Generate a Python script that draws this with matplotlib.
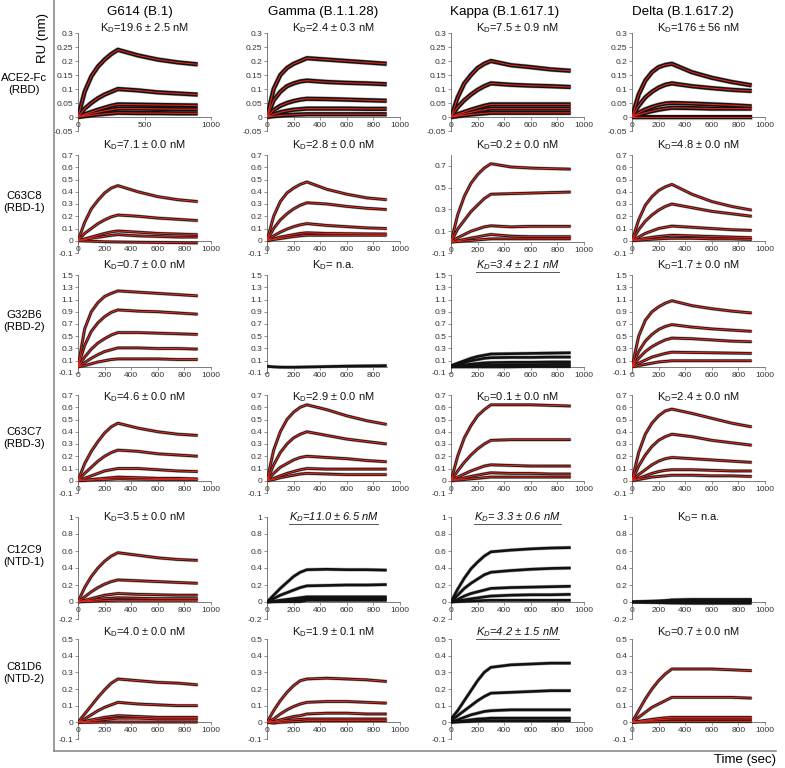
import matplotlib
matplotlib.use("Agg")
import matplotlib.pyplot as plt
from matplotlib.lines import Line2D
from matplotlib.ticker import FuncFormatter

plt.rcParams['font.family'] = ['Liberation Sans', 'DejaVu Sans']
plt.rcParams['axes.unicode_minus'] = False
plt.rcParams['mathtext.fontset'] = 'custom'
plt.rcParams['mathtext.rm'] = 'Liberation Sans'
plt.rcParams['mathtext.it'] = 'Liberation Sans:italic'

# ---------------- data ----------------
variants = ["G614 (B.1)", "Gamma (B.1.1.28)", "Kappa (B.1.617.1)", "Delta (B.1.617.2)"]
antibodies = ["ACE2-Fc\n(RBD)", "C63C8\n(RBD-1)", "G32B6\n(RBD-2)", "C63C7\n(RBD-3)", "C12C9\n(NTD-1)", "C81D6\n(NTD-2)"]
time_s = [0, 50, 100, 150, 200, 250, 300, 450, 600, 750, 900]

kd_labels = [
    ["19.6 ± 2.5 nM", "2.4 ± 0.3 nM", "7.5 ± 0.9 nM", "176 ± 56 nM"],
    ["7.1 ± 0.0 nM", "2.8 ± 0.0 nM", "0.2 ± 0.0 nM", "4.8 ± 0.0 nM"],
    ["0.7 ± 0.0 nM", " n.a.", "3.4 ± 2.1 nM", "1.7 ± 0.0 nM"],
    ["4.6 ± 0.0 nM", "2.9 ± 0.0 nM", "0.1 ± 0.0 nM", "2.4 ± 0.0 nM"],
    ["3.5 ± 0.0 nM", "11.0 ± 6.5 nM", " 3.3 ± 0.6 nM", " n.a."],
    ["4.0 ± 0.0 nM", "1.9 ± 0.1 nM", "4.2 ± 1.5 nM", "0.7 ± 0.0 nM"],
]
kd_italic = [
    [False, False, False, False],
    [False, False, False, False],
    [False, False, True, False],
    [False, False, False, False],
    [False, True, True, False],
    [False, False, True, False],
]
has_fit = [
    [True, True, True, True],
    [True, True, True, True],
    [True, False, False, True],
    [True, True, True, True],
    [True, False, False, False],
    [True, True, False, True],
]

# Row 1: ACE2-Fc
ace2_g614 = [
    [0, 0.09, 0.145, 0.18, 0.205, 0.225, 0.24, 0.22, 0.205, 0.195, 0.188],
    [0, 0.03, 0.05, 0.067, 0.08, 0.09, 0.10, 0.095, 0.088, 0.084, 0.08],
    [0, 0.01, 0.018, 0.026, 0.033, 0.04, 0.045, 0.044, 0.043, 0.042, 0.041],
    [0, 0.006, 0.012, 0.017, 0.022, 0.026, 0.03, 0.03, 0.029, 0.028, 0.028],
    [0, 0.003, 0.006, 0.009, 0.011, 0.013, 0.015, 0.014, 0.014, 0.013, 0.013],
]
ace2_gamma = [
    [0, 0.10, 0.15, 0.175, 0.19, 0.20, 0.21, 0.205, 0.20, 0.195, 0.19],
    [0, 0.06, 0.09, 0.11, 0.12, 0.127, 0.13, 0.125, 0.122, 0.12, 0.117],
    [0, 0.025, 0.04, 0.05, 0.057, 0.062, 0.065, 0.064, 0.062, 0.06, 0.058],
    [0, 0.01, 0.017, 0.022, 0.026, 0.028, 0.03, 0.03, 0.03, 0.029, 0.029],
    [0, 0.003, 0.005, 0.007, 0.008, 0.009, 0.01, 0.01, 0.01, 0.01, 0.01],
]
ace2_kappa = [
    [0, 0.07, 0.12, 0.15, 0.175, 0.19, 0.20, 0.185, 0.178, 0.17, 0.165],
    [0, 0.035, 0.06, 0.08, 0.097, 0.11, 0.12, 0.115, 0.112, 0.11, 0.107],
    [0, 0.01, 0.018, 0.026, 0.033, 0.04, 0.045, 0.045, 0.045, 0.045, 0.045],
    [0, 0.006, 0.012, 0.017, 0.022, 0.026, 0.03, 0.03, 0.03, 0.03, 0.03],
    [0, 0.003, 0.006, 0.009, 0.011, 0.013, 0.015, 0.015, 0.015, 0.015, 0.015],
]
ace2_delta = [
    [0, 0.08, 0.13, 0.16, 0.178, 0.186, 0.19, 0.16, 0.14, 0.125, 0.113],
    [0, 0.04, 0.07, 0.09, 0.105, 0.115, 0.12, 0.11, 0.103, 0.097, 0.093],
    [0, 0.015, 0.027, 0.036, 0.043, 0.048, 0.05, 0.048, 0.045, 0.042, 0.038],
    [0, 0.008, 0.015, 0.021, 0.026, 0.03, 0.033, 0.032, 0.03, 0.03, 0.03],
    [0, 0.0, 0.0, 0.0, 0.0, 0.0, 0.0, 0.0, 0.0, 0.0, 0.0],
]
# Row 2: C63C8
c63c8_g614 = [
    [0, 0.15, 0.26, 0.33, 0.39, 0.43, 0.45, 0.40, 0.36, 0.335, 0.32],
    [0, 0.06, 0.10, 0.14, 0.17, 0.195, 0.21, 0.20, 0.185, 0.175, 0.165],
    [0, 0.015, 0.03, 0.045, 0.06, 0.072, 0.08, 0.07, 0.06, 0.055, 0.05],
    [0, 0.01, 0.02, 0.028, 0.036, 0.044, 0.05, 0.04, 0.035, 0.03, 0.03],
    [0, -0.002, -0.004, -0.006, -0.008, -0.009, -0.01, -0.012, -0.014, -0.016, -0.018],
]
c63c8_gamma = [
    [0, 0.20, 0.32, 0.39, 0.43, 0.46, 0.48, 0.42, 0.38, 0.35, 0.335],
    [0, 0.10, 0.17, 0.22, 0.26, 0.29, 0.31, 0.30, 0.28, 0.265, 0.255],
    [0, 0.04, 0.07, 0.095, 0.115, 0.13, 0.14, 0.125, 0.115, 0.105, 0.10],
    [0, 0.015, 0.03, 0.04, 0.05, 0.06, 0.065, 0.06, 0.058, 0.056, 0.055],
    [0, 0.01, 0.018, 0.026, 0.034, 0.04, 0.045, 0.045, 0.045, 0.045, 0.045],
]
c63c8_kappa = [
    [0, 0.25, 0.42, 0.54, 0.62, 0.68, 0.72, 0.69, 0.68, 0.675, 0.67],
    [0, 0.12, 0.20, 0.28, 0.34, 0.40, 0.44, 0.445, 0.45, 0.455, 0.46],
    [0, 0.04, 0.07, 0.10, 0.12, 0.14, 0.15, 0.14, 0.145, 0.145, 0.145],
    [0, 0.012, 0.025, 0.037, 0.048, 0.06, 0.07, 0.055, 0.05, 0.05, 0.05],
    [0, 0.005, 0.01, 0.015, 0.02, 0.025, 0.03, 0.03, 0.03, 0.03, 0.03],
]
c63c8_delta = [
    [0, 0.17, 0.29, 0.36, 0.41, 0.44, 0.46, 0.38, 0.32, 0.28, 0.25],
    [0, 0.09, 0.16, 0.21, 0.25, 0.28, 0.30, 0.27, 0.24, 0.22, 0.20],
    [0, 0.03, 0.06, 0.08, 0.10, 0.11, 0.12, 0.11, 0.10, 0.09, 0.085],
    [0, 0.01, 0.02, 0.028, 0.035, 0.04, 0.045, 0.04, 0.035, 0.03, 0.025],
    [0, 0.004, 0.008, 0.012, 0.015, 0.018, 0.02, 0.02, 0.015, 0.015, 0.01],
]
# Row 3: G32B6
g32b6_g614 = [
    [0, 0.62, 0.90, 1.05, 1.15, 1.20, 1.24, 1.22, 1.20, 1.18, 1.16],
    [0, 0.35, 0.58, 0.72, 0.82, 0.89, 0.93, 0.91, 0.90, 0.88, 0.86],
    [0, 0.16, 0.29, 0.39, 0.46, 0.52, 0.56, 0.56, 0.55, 0.54, 0.53],
    [0, 0.07, 0.14, 0.20, 0.25, 0.28, 0.31, 0.31, 0.30, 0.30, 0.29],
    [0, 0.02, 0.05, 0.08, 0.10, 0.12, 0.13, 0.13, 0.13, 0.12, 0.12],
]
g32b6_gamma = [
    [0.01, 0.0, -0.005, -0.006, -0.006, -0.004, -0.002, 0.005, 0.012, 0.016, 0.02],
]
g32b6_kappa = [
    [0.02, 0.06, 0.10, 0.14, 0.17, 0.19, 0.21, 0.215, 0.22, 0.225, 0.23],
    [0.01, 0.04, 0.07, 0.10, 0.12, 0.14, 0.15, 0.155, 0.155, 0.16, 0.16],
    [0.0, 0.02, 0.03, 0.045, 0.055, 0.065, 0.07, 0.075, 0.075, 0.08, 0.08],
    [0.0, 0.01, 0.015, 0.02, 0.025, 0.03, 0.03, 0.035, 0.035, 0.04, 0.04],
    [0.0, 0.0, 0.0, 0.0, 0.0, 0.0, 0.0, 0.0, 0.005, 0.005, 0.005],
]
g32b6_delta = [
    [0, 0.50, 0.76, 0.90, 0.98, 1.04, 1.08, 1.00, 0.95, 0.91, 0.88],
    [0, 0.25, 0.42, 0.53, 0.61, 0.66, 0.69, 0.65, 0.62, 0.60, 0.58],
    [0, 0.14, 0.25, 0.33, 0.39, 0.44, 0.47, 0.46, 0.44, 0.42, 0.41],
    [0, 0.06, 0.11, 0.16, 0.19, 0.22, 0.24, 0.235, 0.23, 0.225, 0.22],
    [0, 0.02, 0.04, 0.06, 0.08, 0.09, 0.10, 0.10, 0.10, 0.10, 0.10],
]
# Row 4: C63C7
c63c7_g614 = [
    [0, 0.14, 0.24, 0.32, 0.39, 0.44, 0.47, 0.43, 0.40, 0.38, 0.37],
    [0, 0.06, 0.11, 0.16, 0.20, 0.23, 0.25, 0.24, 0.22, 0.21, 0.20],
    [0, 0.02, 0.04, 0.06, 0.08, 0.09, 0.10, 0.10, 0.09, 0.08, 0.075],
    [0, 0.005, 0.01, 0.015, 0.02, 0.025, 0.03, 0.025, 0.02, 0.02, 0.015],
    [0, 0.003, 0.005, 0.008, 0.01, 0.012, 0.015, 0.012, 0.01, 0.01, 0.01],
]
c63c7_gamma = [
    [0, 0.25, 0.40, 0.50, 0.56, 0.60, 0.62, 0.58, 0.53, 0.49, 0.46],
    [0, 0.13, 0.23, 0.30, 0.35, 0.38, 0.40, 0.37, 0.34, 0.32, 0.30],
    [0, 0.06, 0.11, 0.14, 0.17, 0.19, 0.20, 0.19, 0.18, 0.165, 0.155],
    [0, 0.02, 0.04, 0.06, 0.075, 0.09, 0.10, 0.095, 0.095, 0.095, 0.095],
    [0, 0.01, 0.025, 0.035, 0.045, 0.055, 0.06, 0.055, 0.05, 0.05, 0.05],
]
c63c7_kappa = [
    [0, 0.20, 0.35, 0.45, 0.53, 0.58, 0.62, 0.62, 0.62, 0.615, 0.61],
    [0, 0.08, 0.15, 0.21, 0.26, 0.30, 0.33, 0.335, 0.335, 0.335, 0.335],
    [0, 0.03, 0.055, 0.08, 0.10, 0.12, 0.13, 0.125, 0.12, 0.12, 0.12],
    [0, 0.012, 0.024, 0.035, 0.046, 0.056, 0.065, 0.06, 0.06, 0.055, 0.055],
    [0, 0.005, 0.01, 0.015, 0.02, 0.025, 0.03, 0.03, 0.03, 0.03, 0.03],
]
c63c7_delta = [
    [0, 0.23, 0.38, 0.47, 0.53, 0.57, 0.585, 0.55, 0.51, 0.47, 0.44],
    [0, 0.12, 0.21, 0.28, 0.33, 0.36, 0.38, 0.36, 0.33, 0.31, 0.29],
    [0, 0.05, 0.09, 0.13, 0.16, 0.18, 0.19, 0.18, 0.17, 0.16, 0.15],
    [0, 0.02, 0.04, 0.06, 0.075, 0.085, 0.09, 0.09, 0.085, 0.08, 0.08],
    [0, 0.01, 0.02, 0.03, 0.035, 0.04, 0.045, 0.045, 0.04, 0.04, 0.035],
]
# Row 5: C12C9
c12c9_g614 = [
    [0, 0.17, 0.30, 0.40, 0.48, 0.54, 0.58, 0.55, 0.52, 0.50, 0.49],
    [0, 0.06, 0.12, 0.17, 0.21, 0.24, 0.26, 0.25, 0.24, 0.23, 0.22],
    [0, 0.02, 0.04, 0.06, 0.08, 0.09, 0.10, 0.09, 0.085, 0.08, 0.08],
    [0, 0.01, 0.02, 0.03, 0.04, 0.045, 0.05, 0.045, 0.04, 0.04, 0.04],
    [0, 0.005, 0.008, 0.012, 0.015, 0.018, 0.02, 0.02, 0.02, 0.02, 0.02],
]
c12c9_gamma = [
    [0, 0.08, 0.16, 0.23, 0.30, 0.35, 0.38, 0.385, 0.38, 0.38, 0.375],
    [0, 0.04, 0.08, 0.11, 0.14, 0.17, 0.19, 0.195, 0.20, 0.20, 0.205],
    [0, 0.01, 0.02, 0.03, 0.04, 0.05, 0.06, 0.06, 0.06, 0.06, 0.06],
    [0, 0.005, 0.01, 0.015, 0.02, 0.025, 0.04, 0.04, 0.04, 0.04, 0.04],
    [0, 0.003, 0.004, 0.005, 0.005, 0.005, 0.02, 0.02, 0.02, 0.02, 0.02],
]
c12c9_kappa = [
    [0, 0.15, 0.28, 0.39, 0.47, 0.54, 0.59, 0.61, 0.625, 0.635, 0.64],
    [0, 0.08, 0.16, 0.22, 0.27, 0.32, 0.35, 0.37, 0.385, 0.395, 0.40],
    [0, 0.03, 0.07, 0.10, 0.12, 0.14, 0.16, 0.17, 0.175, 0.18, 0.185],
    [0, 0.012, 0.025, 0.037, 0.048, 0.06, 0.07, 0.08, 0.085, 0.085, 0.09],
    [0, 0.005, 0.008, 0.012, 0.015, 0.018, 0.02, 0.02, 0.02, 0.02, 0.02],
]
c12c9_delta = [
    [0, 0.0, 0.0, 0.005, 0.01, 0.015, 0.025, 0.03, 0.03, 0.03, 0.03],
    [0, 0.0, 0.0, 0.0, 0.005, 0.005, 0.01, 0.01, 0.01, 0.01, 0.01],
    [0, -0.002, -0.004, -0.006, -0.008, -0.01, -0.012, -0.015, -0.015, -0.015, -0.015],
    [0, 0.005, 0.008, 0.01, 0.012, 0.015, 0.018, 0.02, 0.02, 0.02, 0.02],
]
# Row 6: C81D6
c81d6_g614 = [
    [0, 0.05, 0.10, 0.15, 0.195, 0.235, 0.26, 0.25, 0.24, 0.235, 0.225],
    [0, 0.02, 0.045, 0.07, 0.09, 0.105, 0.12, 0.11, 0.105, 0.10, 0.10],
    [0, 0.005, 0.015, 0.022, 0.03, 0.035, 0.04, 0.035, 0.03, 0.03, 0.03],
    [0, 0.004, 0.008, 0.012, 0.016, 0.02, 0.025, 0.025, 0.02, 0.02, 0.02],
    [0, 0.0, 0.0, 0.001, 0.001, 0.002, 0.002, 0.002, 0.002, 0.002, 0.002],
]
c81d6_gamma = [
    [0, 0.07, 0.13, 0.18, 0.22, 0.25, 0.26, 0.265, 0.26, 0.255, 0.245],
    [0, 0.02, 0.05, 0.075, 0.095, 0.11, 0.12, 0.125, 0.125, 0.12, 0.115],
    [0, 0.005, 0.015, 0.025, 0.035, 0.04, 0.05, 0.055, 0.055, 0.05, 0.05],
    [0, 0.004, 0.008, 0.012, 0.015, 0.018, 0.02, 0.02, 0.02, 0.02, 0.02],
    [0, -0.005, 0.0, 0.002, 0.004, 0.006, 0.01, 0.01, 0.01, 0.01, 0.01],
]
c81d6_kappa = [
    [0.02, 0.07, 0.13, 0.19, 0.25, 0.30, 0.33, 0.345, 0.35, 0.355, 0.355],
    [0.01, 0.04, 0.07, 0.10, 0.13, 0.155, 0.175, 0.18, 0.185, 0.19, 0.19],
    [0, 0.015, 0.03, 0.045, 0.055, 0.065, 0.07, 0.075, 0.075, 0.075, 0.075],
    [0, 0.005, 0.01, 0.015, 0.02, 0.022, 0.025, 0.025, 0.025, 0.025, 0.025],
    [0, 0.002, 0.004, 0.006, 0.008, 0.01, 0.01, 0.01, 0.01, 0.01, 0.01],
]
c81d6_delta = [
    [0, 0.07, 0.14, 0.20, 0.25, 0.29, 0.32, 0.32, 0.32, 0.315, 0.31],
    [0, 0.03, 0.06, 0.09, 0.11, 0.13, 0.15, 0.15, 0.15, 0.15, 0.145],
    [0, 0.006, 0.012, 0.018, 0.023, 0.027, 0.03, 0.03, 0.03, 0.03, 0.03],
    [0, 0.004, 0.008, 0.012, 0.015, 0.018, 0.02, 0.02, 0.02, 0.02, 0.02],
    [0, 0.001, 0.002, 0.003, 0.004, 0.005, 0.005, 0.005, 0.005, 0.005, 0.005],
]

panels = [
    [ace2_g614, ace2_gamma, ace2_kappa, ace2_delta],
    [c63c8_g614, c63c8_gamma, c63c8_kappa, c63c8_delta],
    [g32b6_g614, g32b6_gamma, g32b6_kappa, g32b6_delta],
    [c63c7_g614, c63c7_gamma, c63c7_kappa, c63c7_delta],
    [c12c9_g614, c12c9_gamma, c12c9_kappa, c12c9_delta],
    [c81d6_g614, c81d6_gamma, c81d6_kappa, c81d6_delta],
]

row_ylim = [(-0.05, 0.3), (-0.1, 0.7), (-0.1, 1.5), (-0.1, 0.7), (-0.2, 1.0), (-0.1, 0.5)]
row_ystep = [0.05, 0.1, 0.2, 0.1, 0.2, 0.1]

# ---------------- layout ----------------
W, H = 785, 768
fig = plt.figure(figsize=(W / 100, H / 100), dpi=100)

col_left = [78, 267, 451, 632]
col_w = 133
row_box = [(33, 131), (155, 253), (275, 373), (395, 493), (517, 619), (639, 739)]
kd_y = [28, 145, 265, 397, 517, 632]
title_x = [140, 323, 505, 683]
label_y = [84, 202, 321, 438, 556, 673]

fmt = FuncFormatter(lambda v, p: ("%g" % round(v, 3)))

underline_texts = []
for r in range(6):
    top, bot = row_box[r]
    for c in range(4):
        ax = fig.add_axes([col_left[c] / W, 1 - bot / H, col_w / W, (bot - top) / H])
        ylo, yhi = row_ylim[r]
        step = row_ystep[r]
        yt = [round(ylo + i * step, 3) for i in range(int(round((yhi - ylo) / step)) + 1)]
        if r == 1 and c == 2:
            ylo, yhi = -0.1, 0.8
            yt = [-0.1, 0.1, 0.3, 0.5, 0.7]
        ax.set_ylim(ylo, yhi)
        ax.set_xlim(0, 1000)
        ax.set_yticks(yt)
        if r == 0 and c == 0:
            ax.set_xticks([0, 500, 1000])
        elif r == 2 and c == 1:
            ax.set_xticks([0, 200, 400, 600, 800])
            ax.spines['bottom'].set_bounds(0, 900)
        else:
            ax.set_xticks([0, 200, 400, 600, 800, 1000])
        ax.yaxis.set_major_formatter(fmt)
        ax.xaxis.set_major_formatter(fmt)
        for s in ['top', 'right']:
            ax.spines[s].set_visible(False)
        ax.spines['bottom'].set_position(('data', 0))
        for s in ['left', 'bottom']:
            ax.spines[s].set_color('#666666')
            ax.spines[s].set_linewidth(0.6)
        ax.tick_params(axis='both', direction='out', length=2, width=0.5, colors='#666666',
                       labelsize=6, labelcolor='#333333', pad=1.5)
        ax.patch.set_alpha(0)

        band = 3.0 if r == 0 else 1.9
        for curve in panels[r][c]:
            ax.plot(time_s, curve, color='#b5b5b5', lw=band + 0.8, solid_capstyle='butt', zorder=2)
            ax.plot(time_s, curve, color='#111111', lw=band, solid_capstyle='butt', zorder=3)
            if has_fit[r][c]:
                ax.plot(time_s, curve, color='#e3261c', lw=0.8, zorder=4)

        ital = kd_italic[r][c]
        if ital:
            s = r"$\mathit{K_D}$=" + kd_labels[r][c]
        else:
            s = r"$\mathregular{K_D}$=" + kd_labels[r][c]
        t = fig.text((col_left[c] + col_w / 2) / W, 1 - kd_y[r] / H, s, ha='center', va='center',
                     fontsize=8, style='italic' if ital else 'normal', color='#111111')
        if ital:
            underline_texts.append(t)

for c in range(4):
    fig.text(title_x[c] / W, 1 - 12 / H, variants[c], ha='center', va='center', fontsize=9.6)
for r in range(6):
    fig.text(24 / W, 1 - label_y[r] / H, antibodies[r], ha='center', va='center', fontsize=8.2,
             linespacing=1.15)

fig.text(43 / W, 1 - 38 / H, "RU (nm)", rotation=90, ha='center', va='center', fontsize=9.5)
fig.text(776 / W, 1 - 760 / H, "Time (sec)", ha='right', va='center', fontsize=9.5)

fig.add_artist(Line2D([54 / W, 54 / W], [1.0, 1 - 751 / H], transform=fig.transFigure,
                      color='#8c8c8c', lw=1.2))
fig.add_artist(Line2D([54 / W, 776 / W], [1 - 751 / H, 1 - 751 / H], transform=fig.transFigure,
                      color='#8c8c8c', lw=1.2))

fig.canvas.draw()
rend = fig.canvas.get_renderer()
for t in underline_texts:
    bb = t.get_window_extent(rend)
    yline = bb.y0 - 0.5
    fig.add_artist(Line2D([bb.x0 / W, bb.x1 / W], [yline / H, yline / H], transform=fig.transFigure,
                          color='#555555', lw=0.7))

fig.savefig("out.png", dpi=100)
